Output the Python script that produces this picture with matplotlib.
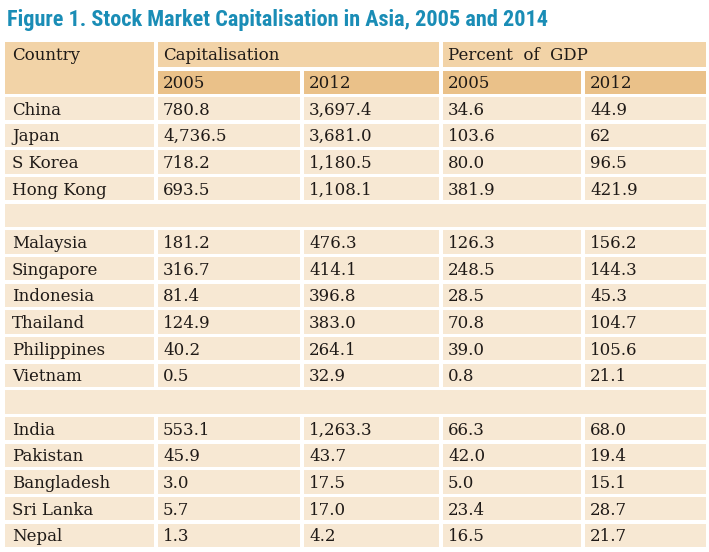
import matplotlib.pyplot as plt
from matplotlib import font_manager
from matplotlib.patches import Rectangle

# table content
countries = ['China', 'Japan', 'S Korea', 'Hong Kong', '',
             'Malaysia', 'Singapore', 'Indonesia', 'Thailand', 'Philippines', 'Vietnam', '',
             'India', 'Pakistan', 'Bangladesh', 'Sri Lanka', 'Nepal']
cap_2005 = ['780.8', '4,736.5', '718.2', '693.5', '',
            '181.2', '316.7', '81.4', '124.9', '40.2', '0.5', '',
            '553.1', '45.9', '3.0', '5.7', '1.3']
cap_2012 = ['3,697.4', '3,681.0', '1,180.5', '1,108.1', '',
            '476.3', '414.1', '396.8', '383.0', '264.1', '32.9', '',
            '1,263.3', '43.7', '17.5', '17.0', '4.2']
gdp_2005 = ['34.6', '103.6', '80.0', '381.9', '',
            '126.3', '248.5', '28.5', '70.8', '39.0', '0.8', '',
            '66.3', '42.0', '5.0', '23.4', '16.5']
gdp_2012 = ['44.9', '62', '96.5', '421.9', '',
            '156.2', '144.3', '45.3', '104.7', '105.6', '21.1', '',
            '68.0', '19.4', '15.1', '28.7', '21.7']
years = ['2005', '2012', '2005', '2012']
title = 'Figure 1. Stock Market Capitalisation in Asia, 2005 and 2014'

TITLE_BLUE = '#1a8db6'
HEAD = '#f2d3a7'
SUBHEAD = '#eac189'
BODY = '#f7e8d3'
INK = '#1f1a17'


def pick_font(names, fallback):
    have = {f.name for f in font_manager.fontManager.ttflist}
    for n in names:
        if n in have:
            return n
    return fallback


title_font = pick_font(['Liberation Sans Narrow', 'DejaVu Sans Condensed', 'Roboto Condensed'], 'Roboto')
body_font = pick_font(['DejaVu Serif'], 'serif')

fig = plt.figure(figsize=(7.09, 5.52), dpi=100)
ax = fig.add_axes([0, 0, 1, 1])
ax.set_xlim(0, 709)
ax.set_ylim(552, 0)
ax.axis('off')

# column left / right edges in pixels
lefts = [5, 158, 304, 443, 585]
rights = [154, 300, 439, 581, 706]
pads = [7, 5, 5, 5, 5]

def cell(x0, x1, y0, h, color):
    ax.add_patch(Rectangle((x0, y0), x1 - x0, h, facecolor=color, edgecolor='none'))

def label(x, yc, s):
    ax.text(x, yc + 6, s, fontsize=12, family=body_font, color=INK, va='baseline', ha='left')

ax.text(7, 26, title, fontsize=16, fontweight='bold', family=title_font,
        color=TITLE_BLUE, va='baseline', ha='left')

# header rows
cell(lefts[0], rights[0], 42, 52, HEAD)
cell(lefts[1], rights[2], 42, 25, HEAD)
cell(lefts[3], rights[4], 42, 25, HEAD)
label(lefts[0] + pads[0], 54.5, 'Country')
label(lefts[1] + pads[1], 54.5, 'Capitalisation')
label(lefts[3] + pads[3], 54.5, 'Percent  of  GDP')
for j, yr in enumerate(years):
    cell(lefts[j + 1], rights[j + 1], 71, 23, SUBHEAD)
    label(lefts[j + 1] + pads[j + 1], 82.5, yr)

# body rows
pitch = 26.67
for i, name in enumerate(countries):
    top = 97 + i * pitch
    yc = top + 11.6
    if name == '':
        cell(lefts[0], rights[4], top, 23.3, BODY)
        continue
    row = [name, cap_2005[i], cap_2012[i], gdp_2005[i], gdp_2012[i]]
    for j, s in enumerate(row):
        cell(lefts[j], rights[j], top, 23.3, BODY)
        label(lefts[j] + pads[j], yc, s)

fig.savefig('out.png', dpi=100)
